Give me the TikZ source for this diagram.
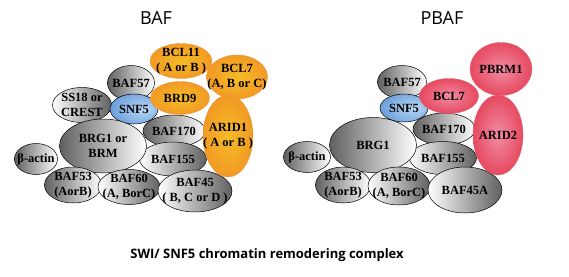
\documentclass[tikz,border=0pt]{standalone}
\usepackage{fontspec}
\setmainfont{Liberation Serif}
\newfontfamily\titlefont{Open Sans}
\usepackage{xcolor}
\usepackage{tikz}
\usetikzlibrary{shapes.geometric}

\definecolor{orangeIn}{RGB}{245,188,40}
\definecolor{orangeOut}{RGB}{238,128,32}
\definecolor{redIn}{RGB}{242,140,165}
\definecolor{redOut}{RGB}{222,32,52}
\definecolor{blueIn}{RGB}{185,215,244}
\definecolor{blueOut}{RGB}{50,118,200}
\definecolor{greyDark}{RGB}{96,96,96}

\pgfdeclareradialshading{orangeball}{\pgfpoint{0bp}{0bp}}{color(0bp)=(orangeIn); color(20bp)=(orangeIn!55!orangeOut); color(42bp)=(orangeOut); color(60bp)=(orangeOut)}
\pgfdeclareradialshading{redball}{\pgfpoint{0bp}{0bp}}{color(0bp)=(redIn); color(18bp)=(redIn!55!redOut); color(42bp)=(redOut); color(60bp)=(redOut)}
\pgfdeclareradialshading{blueball}{\pgfpoint{12bp}{0bp}}{color(0bp)=(blueIn); color(22bp)=(blueIn!60!blueOut); color(50bp)=(blueOut); color(60bp)=(blueOut)}

\begin{document}
\begin{tikzpicture}[x=1pt, y=-1pt]
        \tikzstyle{subunit} = [ellipse, inner sep=0pt]
        \tikzstyle{greyR} = [subunit, left color=greyDark, right color=white, draw=black, line width=0.5pt]
        \tikzstyle{greyL} = [subunit, left color=white, right color=greyDark, draw=black, line width=0.5pt]
        \tikzstyle{orange} = [subunit, shade, shading=orangeball, draw=orangeOut!80!white, line width=0.4pt]
        \tikzstyle{red} = [subunit, shade, shading=redball, draw=redOut!70!white, line width=0.4pt]
        \tikzstyle{blue} = [subunit, shade, shading=blueball, draw=black, line width=0.5pt]
        \tikzstyle{tag} = [align=center, inner sep=0pt, font=\fontsize{12.5}{14.5}\selectfont\bfseries]
        \tikzstyle{title} = [font=\titlefont\fontsize{18}{20}\selectfont]

        \path[use as bounding box] (0,0) rectangle (569,276);

        % BAF
        \node (baf) [title] at (156,18) {BAF};
        \node (ssA) [greyL, minimum width=59, minimum height=35] at (82,105) {};
        \node (baf57A) [greyR, minimum width=47, minimum height=35] at (131,83) {};
        \node (snf5A) [blue, minimum width=48, minimum height=30] at (134,109) {};
        \node (baf170A) [greyR, minimum width=62, minimum height=32] at (174,131) {};
        \node (baf155A) [greyL, minimum width=67, minimum height=34] at (173,159) {};
        \node (actinA) [greyR, minimum width=43, minimum height=31] at (36,159) {};
        \node (brgA) [greyR, minimum width=87, minimum height=54] at (103,146) {};
        \node (baf53A) [greyR, minimum width=57, minimum height=36] at (73,185) {};
        \node (baf60A) [greyL, minimum width=62, minimum height=35] at (129,187) {};
        \node (baf45A) [greyL, minimum width=74, minimum height=42] at (195,191) {};
        \node (bcl11A) [orange, minimum width=62, minimum height=35] at (181,61) {};
        \node (bcl7A) [orange, minimum width=61, minimum height=44] at (237,77) {};
        \node (brd9A) [orange, minimum width=59, minimum height=33] at (180,98) {};
        \node (arid1A) [orange, minimum width=50, minimum height=82] at (228,136) {};

        \node (ssAl) [tag] at (ssA) {SS18 or\\CREST};
        \node (baf57Al) [tag] at (baf57A) {BAF57};
        \node (snf5Al) [tag] at (snf5A) {SNF5};
        \node (baf170Al) [tag] at (baf170A) {BAF170};
        \node (baf155Al) [tag] at (baf155A) {BAF155};
        \node (actinAl) [tag] at (actinA) {β-actin};
        \node (brgAl) [tag] at (brgA) {BRG1 or\\BRM};
        \node (baf53Al) [tag] at (baf53A) {BAF53\\(AorB)};
        \node (baf60Al) [tag] at (baf60A) {BAF60\\(A, BorC)};
        \node (baf45Al) [tag] at (baf45A) {BAF45\\( B, C or D )};
        \node (bcl11Al) [tag] at (bcl11A) {BCL11\\( A or B )};
        \node (bcl7Al) [tag] at (bcl7A) {BCL7\\(A, B or C)};
        \node (brd9Al) [tag] at (brd9A) {BRD9};
        \node (arid1Al) [tag] at (arid1A) {ARID1\\( A or B )};

        % PBAF
        \node (pbaf) [title] at (442,18) {PBAF};
        \node (baf57B) [greyR, minimum width=49, minimum height=33] at (402,82) {};
        \node (snf5B) [blue, minimum width=48, minimum height=28] at (404,108) {};
        \node (baf170B) [greyR, minimum width=62, minimum height=32] at (444,129) {};
        \node (baf155B) [greyL, minimum width=67, minimum height=33] at (443,158) {};
        \node (actinB) [greyR, minimum width=47, minimum height=31] at (307,157) {};
        \node (brgB) [greyR, minimum width=87, minimum height=55] at (373,145) {};
        \node (baf53B) [greyR, minimum width=55, minimum height=36] at (343,185) {};
        \node (baf60B) [greyL, minimum width=62, minimum height=38] at (399,186) {};
        \node (baf45B) [greyL, minimum width=74, minimum height=46] at (465,190) {};
        \node (pbrm1B) [red, minimum width=62, minimum height=53] at (501,69) {};
        \node (bcl7B) [red, minimum width=59, minimum height=35] at (449,96) {};
        \node (arid2B) [red, minimum width=50, minimum height=80] at (498,135) {};

        \node (baf57Bl) [tag] at (baf57B) {BAF57};
        \node (snf5Bl) [tag] at (snf5B) {SNF5};
        \node (baf170Bl) [tag] at (baf170B) {BAF170};
        \node (baf155Bl) [tag] at (baf155B) {BAF155};
        \node (actinBl) [tag] at (actinB) {β-actin};
        \node (brgBl) [tag] at (brgB) {BRG1};
        \node (baf53Bl) [tag] at (baf53B) {BAF53\\(AorB)};
        \node (baf60Bl) [tag] at (baf60B) {BAF60\\(A, BorC)};
        \node (baf45Bl) [tag] at (baf45B) {BAF45A};
        \node (pbrm1Bl) [tag] at (pbrm1B) {PBRM1};
        \node (bcl7Bl) [tag] at (bcl7B) {BCL7};
        \node (arid2Bl) [tag] at (arid2B) {ARID2};

        \node (caption) [font=\titlefont\fontsize{13}{15}\selectfont\bfseries] at (267,255) {SWI/ SNF5 chromatin remodering complex};
    \end{tikzpicture}
\end{document}
